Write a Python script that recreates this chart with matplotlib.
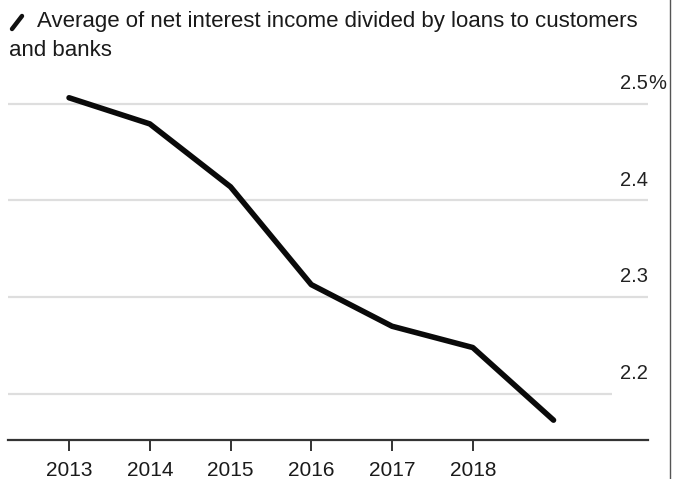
import numpy as np
import matplotlib.pyplot as plt
from matplotlib.lines import Line2D

years = [2013, 2014, 2015, 2016, 2017, 2018, 2019]
ratio = [2.506, 2.479, 2.414, 2.313, 2.270, 2.248, 2.173]
tick_years = [2013, 2014, 2015, 2016, 2017, 2018]
grid_vals = [2.5, 2.4, 2.3, 2.2]
grid_labels = ['2.5', '2.4', '2.3', '2.2']
title_1 = 'Average of net interest income divided by loans to customers'
title_2 = 'and banks'

plt.rcParams['font.family'] = ['Liberation Sans', 'DejaVu Sans']

W, H = 673, 479
fig = plt.figure(figsize=(W / 100, H / 100), dpi=100)
# axes box in pixels: left 8, right 648, bottom 440, top 60
ax = fig.add_axes([8 / W, 1 - 440 / H, 640 / W, 380 / H])

x0, x1 = 2012.244, 2020.17
y0, y1 = 2.1525, 2.545
ax.set_xlim(x0, x1)
ax.set_ylim(y0, y1)

# gridlines (the lowest one stops short)
for v in grid_vals:
    xe = x1 if v != 2.2 else 2019.72
    ax.plot([x0, xe], [v, v], color='#dedede', lw=1.6, zorder=1, solid_capstyle='butt')

ax.plot(years, ratio, color='#0a0a0a', lw=4.0, solid_capstyle='round',
        solid_joinstyle='round', zorder=3)

# right-hand labels above gridlines
for v, lab in zip(grid_vals, grid_labels):
    ax.text(x1, v + 0.021, lab, ha='right', va='center', fontsize=14.5,
            color='#222222')
ax.text(x1, 2.5 + 0.021, '%', ha='left', va='center', fontsize=14.5,
        color='#222222')

for s in ['top', 'right', 'left']:
    ax.spines[s].set_visible(False)
ax.spines['bottom'].set_color('#333333')
ax.spines['bottom'].set_linewidth(1.6)
ax.set_yticks([])
ax.set_xticks(tick_years)
ax.set_xticklabels([str(y) for y in tick_years], fontsize=15, color='#1a1a1a')
ax.tick_params(axis='x', length=8, width=1.4, color='#333333', pad=7)

# title with little slash icon
fig.text(37 / W, 1 - 22 / H, title_1, ha='left', va='center', fontsize=16,
         color='#1a1a1a')
fig.text(9 / W, 1 - 50 / H, title_2, ha='left', va='center', fontsize=16,
         color='#1a1a1a')
fig.add_artist(Line2D([12 / W, 22 / W], [1 - 29 / H, 1 - 16 / H], color='#111111',
                      lw=3.2, solid_capstyle='round'))

# right border
fig.add_artist(Line2D([670 / W, 670 / W], [0, 1], color='#555555', lw=1.0))

fig.savefig('out.png', dpi=100, facecolor='white')
